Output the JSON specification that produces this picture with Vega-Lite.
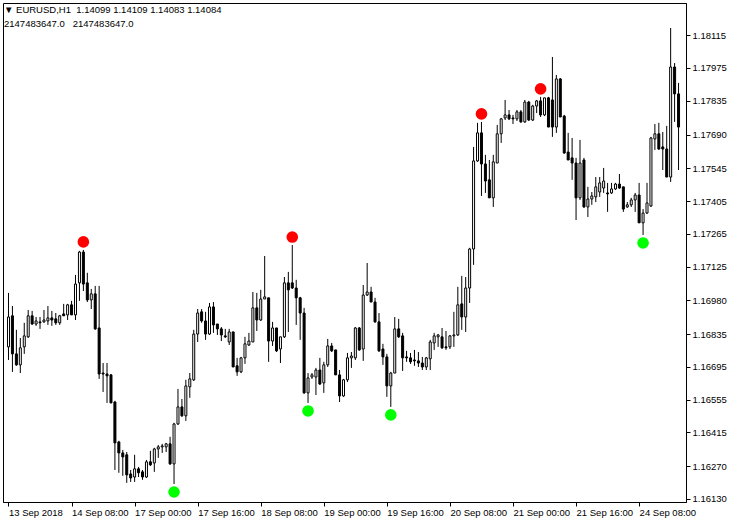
{
"$schema": "https://vega.github.io/schema/vega-lite/v6.json",
"width": 683, "height": 499,
"autosize": {"type": "none"},
"padding": {"left": 3, "top": 3, "right": 43, "bottom": 21},
"background": "white",
"title": {"text": ["\u25bc EURUSD,H1\u00a0 1.14099 1.14109 1.14083 1.14084", "2147483647.0\u00a0\u00a0 2147483647.0"], "anchor": "start", "frame": "group", "orient": "top", "offset": -25, "font": "Liberation Sans", "fontSize": 9.5, "fontWeight": "normal", "color": "black", "lineHeight": 14, "dx": 1},
"datasets": {
"bars": [
{"i":0,"o":1.16781,"h":1.17012,"l":1.16725,"c":1.16909},
{"i":1,"o":1.16914,"h":1.16956,"l":1.16674,"c":1.16751},
{"i":2,"o":1.16751,"h":1.16854,"l":1.16700,"c":1.16704},
{"i":3,"o":1.16704,"h":1.16819,"l":1.16669,"c":1.16777},
{"i":4,"o":1.16781,"h":1.16884,"l":1.16751,"c":1.16828},
{"i":5,"o":1.16824,"h":1.16939,"l":1.16819,"c":1.16914},
{"i":6,"o":1.16914,"h":1.16935,"l":1.16875,"c":1.16879},
{"i":7,"o":1.16879,"h":1.16909,"l":1.16871,"c":1.16892},
{"i":8,"o":1.16888,"h":1.16909,"l":1.16858,"c":1.16884},
{"i":9,"o":1.16888,"h":1.16939,"l":1.16884,"c":1.16896},
{"i":10,"o":1.16892,"h":1.16956,"l":1.16875,"c":1.16905},
{"i":11,"o":1.16905,"h":1.16935,"l":1.16871,"c":1.16896},
{"i":12,"o":1.16901,"h":1.16926,"l":1.16875,"c":1.16884},
{"i":13,"o":1.16884,"h":1.16918,"l":1.16875,"c":1.16914},
{"i":14,"o":1.16922,"h":1.16965,"l":1.16914,"c":1.16914},
{"i":15,"o":1.16918,"h":1.16965,"l":1.16896,"c":1.16961},
{"i":16,"o":1.16961,"h":1.16978,"l":1.16918,"c":1.16918},
{"i":17,"o":1.16918,"h":1.17089,"l":1.16896,"c":1.17050},
{"i":18,"o":1.17055,"h":1.17192,"l":1.16978,"c":1.17187},
{"i":19,"o":1.17187,"h":1.17196,"l":1.17020,"c":1.17050},
{"i":20,"o":1.17055,"h":1.17098,"l":1.16973,"c":1.16982},
{"i":21,"o":1.16982,"h":1.17029,"l":1.16943,"c":1.17008},
{"i":22,"o":1.17008,"h":1.17042,"l":1.16854,"c":1.16858},
{"i":23,"o":1.16862,"h":1.17042,"l":1.16644,"c":1.16665},
{"i":24,"o":1.16669,"h":1.16712,"l":1.16588,"c":1.16665},
{"i":25,"o":1.16665,"h":1.16712,"l":1.16541,"c":1.16657},
{"i":26,"o":1.16661,"h":1.16665,"l":1.16541,"c":1.16541},
{"i":27,"o":1.16545,"h":1.16550,"l":1.16254,"c":1.16370},
{"i":28,"o":1.16374,"h":1.16379,"l":1.16242,"c":1.16327},
{"i":29,"o":1.16327,"h":1.16340,"l":1.16229,"c":1.16310},
{"i":30,"o":1.16319,"h":1.16331,"l":1.16199,"c":1.16233},
{"i":31,"o":1.16237,"h":1.16254,"l":1.16203,"c":1.16220},
{"i":32,"o":1.16224,"h":1.16319,"l":1.16203,"c":1.16259},
{"i":33,"o":1.16259,"h":1.16267,"l":1.16224,"c":1.16242},
{"i":34,"o":1.16246,"h":1.16254,"l":1.16212,"c":1.16224},
{"i":35,"o":1.16224,"h":1.16297,"l":1.16220,"c":1.16289},
{"i":36,"o":1.16289,"h":1.16336,"l":1.16271,"c":1.16276},
{"i":37,"o":1.16284,"h":1.16349,"l":1.16246,"c":1.16344},
{"i":38,"o":1.16344,"h":1.16361,"l":1.16306,"c":1.16353},
{"i":39,"o":1.16353,"h":1.16366,"l":1.16327,"c":1.16357},
{"i":40,"o":1.16353,"h":1.16370,"l":1.16331,"c":1.16366},
{"i":41,"o":1.16366,"h":1.16396,"l":1.16276,"c":1.16280},
{"i":42,"o":1.16280,"h":1.16456,"l":1.16194,"c":1.16451},
{"i":43,"o":1.16451,"h":1.16601,"l":1.16447,"c":1.16524},
{"i":44,"o":1.16524,"h":1.16558,"l":1.16481,"c":1.16486},
{"i":45,"o":1.16486,"h":1.16640,"l":1.16464,"c":1.16614},
{"i":46,"o":1.16610,"h":1.16669,"l":1.16563,"c":1.16644},
{"i":47,"o":1.16640,"h":1.16854,"l":1.16635,"c":1.16836},
{"i":48,"o":1.16836,"h":1.16943,"l":1.16802,"c":1.16926},
{"i":49,"o":1.16931,"h":1.16943,"l":1.16884,"c":1.16892},
{"i":50,"o":1.16892,"h":1.16931,"l":1.16811,"c":1.16836},
{"i":51,"o":1.16836,"h":1.16969,"l":1.16832,"c":1.16952},
{"i":52,"o":1.16952,"h":1.16973,"l":1.16841,"c":1.16875},
{"i":53,"o":1.16879,"h":1.16879,"l":1.16832,"c":1.16858},
{"i":54,"o":1.16858,"h":1.16866,"l":1.16806,"c":1.16832},
{"i":55,"o":1.16828,"h":1.16858,"l":1.16819,"c":1.16824},
{"i":56,"o":1.16802,"h":1.16858,"l":1.16789,"c":1.16845},
{"i":57,"o":1.16845,"h":1.16845,"l":1.16695,"c":1.16695},
{"i":58,"o":1.16700,"h":1.16734,"l":1.16657,"c":1.16674},
{"i":59,"o":1.16674,"h":1.16738,"l":1.16669,"c":1.16734},
{"i":60,"o":1.16734,"h":1.16824,"l":1.16708,"c":1.16794},
{"i":61,"o":1.16789,"h":1.16841,"l":1.16785,"c":1.16806},
{"i":62,"o":1.16802,"h":1.17016,"l":1.16802,"c":1.16948},
{"i":63,"o":1.16948,"h":1.17012,"l":1.16849,"c":1.16896},
{"i":64,"o":1.16896,"h":1.17025,"l":1.16892,"c":1.16986},
{"i":65,"o":1.16986,"h":1.17170,"l":1.16986,"c":1.16995},
{"i":66,"o":1.16991,"h":1.16991,"l":1.16717,"c":1.16806},
{"i":67,"o":1.16806,"h":1.16888,"l":1.16785,"c":1.16862},
{"i":68,"o":1.16862,"h":1.16862,"l":1.16759,"c":1.16764},
{"i":69,"o":1.16772,"h":1.16824,"l":1.16712,"c":1.16824},
{"i":70,"o":1.16824,"h":1.17080,"l":1.16819,"c":1.17055},
{"i":71,"o":1.17055,"h":1.17102,"l":1.16845,"c":1.17025},
{"i":72,"o":1.17055,"h":1.17217,"l":1.17029,"c":1.17033},
{"i":73,"o":1.17033,"h":1.17068,"l":1.16875,"c":1.16991},
{"i":74,"o":1.16991,"h":1.16995,"l":1.16811,"c":1.16926},
{"i":75,"o":1.16926,"h":1.16948,"l":1.16580,"c":1.16584},
{"i":76,"o":1.16584,"h":1.16669,"l":1.16541,"c":1.16648},
{"i":77,"o":1.16652,"h":1.16669,"l":1.16644,"c":1.16661},
{"i":78,"o":1.16652,"h":1.16691,"l":1.16575,"c":1.16682},
{"i":79,"o":1.16682,"h":1.16734,"l":1.16618,"c":1.16622},
{"i":80,"o":1.16627,"h":1.16717,"l":1.16584,"c":1.16704},
{"i":81,"o":1.16704,"h":1.16815,"l":1.16695,"c":1.16785},
{"i":82,"o":1.16785,"h":1.16798,"l":1.16759,"c":1.16764},
{"i":83,"o":1.16768,"h":1.16768,"l":1.16661,"c":1.16661},
{"i":84,"o":1.16661,"h":1.16682,"l":1.16545,"c":1.16571},
{"i":85,"o":1.16571,"h":1.16644,"l":1.16567,"c":1.16640},
{"i":86,"o":1.16640,"h":1.16755,"l":1.16631,"c":1.16734},
{"i":87,"o":1.16734,"h":1.16759,"l":1.16691,"c":1.16742},
{"i":88,"o":1.16734,"h":1.16866,"l":1.16725,"c":1.16862},
{"i":89,"o":1.16862,"h":1.16866,"l":1.16764,"c":1.16768},
{"i":90,"o":1.16772,"h":1.17046,"l":1.16721,"c":1.17003},
{"i":91,"o":1.17003,"h":1.17140,"l":1.16999,"c":1.17016},
{"i":92,"o":1.17016,"h":1.17038,"l":1.16973,"c":1.16973},
{"i":93,"o":1.16973,"h":1.16991,"l":1.16884,"c":1.16888},
{"i":94,"o":1.16888,"h":1.16926,"l":1.16759,"c":1.16764},
{"i":95,"o":1.16772,"h":1.16794,"l":1.16704,"c":1.16738},
{"i":96,"o":1.16738,"h":1.16751,"l":1.16567,"c":1.16614},
{"i":97,"o":1.16614,"h":1.16674,"l":1.16524,"c":1.16669},
{"i":98,"o":1.16669,"h":1.16909,"l":1.16669,"c":1.16858},
{"i":99,"o":1.16858,"h":1.16901,"l":1.16819,"c":1.16824},
{"i":100,"o":1.16828,"h":1.16841,"l":1.16678,"c":1.16734},
{"i":101,"o":1.16738,"h":1.16764,"l":1.16717,"c":1.16734},
{"i":102,"o":1.16734,"h":1.16755,"l":1.16708,"c":1.16717},
{"i":103,"o":1.16725,"h":1.16768,"l":1.16700,"c":1.16721},
{"i":104,"o":1.16721,"h":1.16759,"l":1.16695,"c":1.16712},
{"i":105,"o":1.16712,"h":1.16738,"l":1.16682,"c":1.16695},
{"i":106,"o":1.16695,"h":1.16738,"l":1.16682,"c":1.16734},
{"i":107,"o":1.16730,"h":1.16811,"l":1.16682,"c":1.16802},
{"i":108,"o":1.16798,"h":1.16841,"l":1.16768,"c":1.16828},
{"i":109,"o":1.16824,"h":1.16836,"l":1.16781,"c":1.16832},
{"i":110,"o":1.16824,"h":1.16862,"l":1.16772,"c":1.16777},
{"i":111,"o":1.16781,"h":1.16849,"l":1.16768,"c":1.16777},
{"i":112,"o":1.16781,"h":1.16832,"l":1.16772,"c":1.16828},
{"i":113,"o":1.16828,"h":1.16931,"l":1.16781,"c":1.16832},
{"i":114,"o":1.16832,"h":1.17038,"l":1.16828,"c":1.16961},
{"i":115,"o":1.16965,"h":1.17085,"l":1.16854,"c":1.16909},
{"i":116,"o":1.16909,"h":1.17080,"l":1.16845,"c":1.17033},
{"i":117,"o":1.17033,"h":1.17205,"l":1.16969,"c":1.17200},
{"i":118,"o":1.17200,"h":1.17637,"l":1.17132,"c":1.17577},
{"i":119,"o":1.17577,"h":1.17740,"l":1.17573,"c":1.17697},
{"i":120,"o":1.17697,"h":1.17744,"l":1.17427,"c":1.17564},
{"i":121,"o":1.17564,"h":1.17603,"l":1.17440,"c":1.17491},
{"i":122,"o":1.17496,"h":1.17581,"l":1.17419,"c":1.17419},
{"i":123,"o":1.17419,"h":1.17603,"l":1.17380,"c":1.17573},
{"i":124,"o":1.17568,"h":1.17731,"l":1.17568,"c":1.17693},
{"i":125,"o":1.17693,"h":1.17761,"l":1.17654,"c":1.17757},
{"i":126,"o":1.17761,"h":1.17838,"l":1.17752,"c":1.17774},
{"i":127,"o":1.17774,"h":1.17795,"l":1.17752,"c":1.17757},
{"i":128,"o":1.17761,"h":1.17774,"l":1.17735,"c":1.17757},
{"i":129,"o":1.17757,"h":1.17795,"l":1.17748,"c":1.17787},
{"i":130,"o":1.17787,"h":1.17795,"l":1.17740,"c":1.17744},
{"i":131,"o":1.17744,"h":1.17838,"l":1.17740,"c":1.17829},
{"i":132,"o":1.17829,"h":1.17834,"l":1.17748,"c":1.17752},
{"i":133,"o":1.17752,"h":1.17817,"l":1.17748,"c":1.17812},
{"i":134,"o":1.17812,"h":1.17838,"l":1.17782,"c":1.17834},
{"i":135,"o":1.17834,"h":1.17851,"l":1.17765,"c":1.17774},
{"i":136,"o":1.17774,"h":1.17847,"l":1.17769,"c":1.17847},
{"i":137,"o":1.17847,"h":1.17851,"l":1.17722,"c":1.17722},
{"i":138,"o":1.17838,"h":1.18022,"l":1.17680,"c":1.17722},
{"i":139,"o":1.17722,"h":1.17945,"l":1.17697,"c":1.17928},
{"i":140,"o":1.17928,"h":1.17932,"l":1.17765,"c":1.17765},
{"i":141,"o":1.17769,"h":1.17774,"l":1.17607,"c":1.17611},
{"i":142,"o":1.17615,"h":1.17697,"l":1.17581,"c":1.17581},
{"i":143,"o":1.17590,"h":1.17675,"l":1.17496,"c":1.17568},
{"i":144,"o":1.17568,"h":1.17590,"l":1.17324,"c":1.17419},
{"i":145,"o":1.17419,"h":1.17667,"l":1.17410,"c":1.17568},
{"i":146,"o":1.17581,"h":1.17590,"l":1.17376,"c":1.17380},
{"i":147,"o":1.17380,"h":1.17466,"l":1.17337,"c":1.17414},
{"i":148,"o":1.17414,"h":1.17444,"l":1.17389,"c":1.17427},
{"i":149,"o":1.17423,"h":1.17508,"l":1.17401,"c":1.17466},
{"i":150,"o":1.17444,"h":1.17508,"l":1.17423,"c":1.17483},
{"i":151,"o":1.17461,"h":1.17547,"l":1.17440,"c":1.17491},
{"i":152,"o":1.17440,"h":1.17483,"l":1.17359,"c":1.17436},
{"i":153,"o":1.17440,"h":1.17483,"l":1.17436,"c":1.17457},
{"i":154,"o":1.17457,"h":1.17483,"l":1.17453,"c":1.17478},
{"i":155,"o":1.17478,"h":1.17521,"l":1.17457,"c":1.17461},
{"i":156,"o":1.17466,"h":1.17466,"l":1.17359,"c":1.17371},
{"i":157,"o":1.17380,"h":1.17401,"l":1.17376,"c":1.17389},
{"i":158,"o":1.17389,"h":1.17419,"l":1.17380,"c":1.17410},
{"i":159,"o":1.17410,"h":1.17440,"l":1.17359,"c":1.17431},
{"i":160,"o":1.17431,"h":1.17483,"l":1.17312,"c":1.17312},
{"i":161,"o":1.17312,"h":1.17371,"l":1.17260,"c":1.17354},
{"i":162,"o":1.17354,"h":1.17483,"l":1.17350,"c":1.17397},
{"i":163,"o":1.17384,"h":1.17680,"l":1.17380,"c":1.17675},
{"i":164,"o":1.17671,"h":1.17735,"l":1.17624,"c":1.17693},
{"i":165,"o":1.17693,"h":1.17740,"l":1.17624,"c":1.17628},
{"i":166,"o":1.17637,"h":1.17701,"l":1.17538,"c":1.17628},
{"i":167,"o":1.17628,"h":1.17727,"l":1.17508,"c":1.17508},
{"i":168,"o":1.17508,"h":1.18146,"l":1.17487,"c":1.17979},
{"i":169,"o":1.17979,"h":1.17996,"l":1.17744,"c":1.17864},
{"i":170,"o":1.17864,"h":1.17911,"l":1.17538,"c":1.17722}
],
"signals": [
{"i":19,"p":1.17196,"kind":"high"},
{"i":72,"p":1.17217,"kind":"high"},
{"i":120,"p":1.17744,"kind":"high"},
{"i":135,"p":1.17851,"kind":"high"},
{"i":42,"p":1.16194,"kind":"low"},
{"i":76,"p":1.16541,"kind":"low"},
{"i":97,"p":1.16524,"kind":"low"},
{"i":161,"p":1.17260,"kind":"low"}
]
},
"layer": [
{
"data": {"name": "bars"},
"mark": {"type": "rule", "color": "black", "strokeWidth": 1},
"encoding": {
"x": {"field": "i", "type": "quantitative", "scale": {"domain": [-0.125, 170.625], "nice": false, "zero": false},
"axis": {"title": null, "labelOverlap": false, "tickCount": 40, "values": [0,16,32,48,64,80,96,112,128,144,160], "labelExpr": "['13 Sep 2018','14 Sep 08:00','17 Sep 00:00','17 Sep 16:00','18 Sep 08:00','19 Sep 00:00','19 Sep 16:00','20 Sep 08:00','21 Sep 00:00','21 Sep 16:00','24 Sep 08:00'][round(datum.value/16)]"}},
"y": {"field": "l", "type": "quantitative", "scale": {"domain": [1.16117, 1.18253], "nice": false, "zero": false},
"axis": {"title": null, "orient": "right", "labelOverlap": false, "tickCount": 40, "values": [1.1613,1.1627,1.16415,1.16555,1.16695,1.16835,1.1698,1.17125,1.17265,1.17405,1.17545,1.1769,1.17835,1.17975,1.18115], "format": ".5f"}},
"y2": {"field": "h"}
}
},
{
"data": {"name": "bars"},
"mark": {"type": "bar", "width": 2, "stroke": "black", "strokeWidth": 1},
"encoding": {
"x": {"field": "i", "type": "quantitative"},
"y": {"field": "o", "type": "quantitative", "axis": {"title": null}},
"y2": {"field": "c"},
"fill": {"condition": {"test": "datum.c > datum.o", "value": "white"}, "value": "black"}
}
},
{
"data": {"name": "signals"},
"transform": [{"filter": "datum.kind == 'high'"}],
"mark": {"type": "point", "filled": true, "size": 135, "color": "#ff0000", "opacity": 1, "yOffset": -8},
"encoding": {
"x": {"field": "i", "type": "quantitative"},
"y": {"field": "p", "type": "quantitative", "axis": {"title": null}}
}
},
{
"data": {"name": "signals"},
"transform": [{"filter": "datum.kind == 'low'"}],
"mark": {"type": "point", "filled": true, "size": 135, "color": "#00ff00", "opacity": 1, "yOffset": 8},
"encoding": {
"x": {"field": "i", "type": "quantitative"},
"y": {"field": "p", "type": "quantitative", "axis": {"title": null}}
}
}
],
"config": {
"view": {"stroke": "black", "strokeWidth": 1},
"axis": {"grid": false, "domainColor": "black", "domainWidth": 1, "tickColor": "black", "tickWidth": 1, "tickSize": 4, "labelColor": "black", "labelFont": "Liberation Sans", "labelFontSize": 9.5, "labelOverlap": false, "labelFlush": false},
"axisX": {"labelAlign": "left", "labelBaseline": "top", "labelPadding": 1, "labelOffset": 0},
"axisY": {"labelAlign": "left", "labelBaseline": "middle", "labelPadding": 2}
}
}
